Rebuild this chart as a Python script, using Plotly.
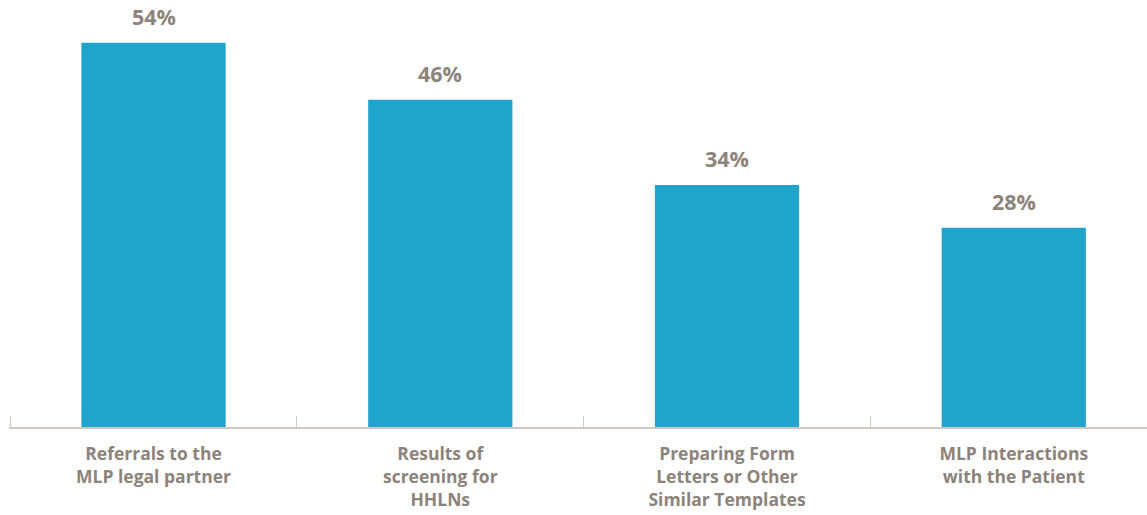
import plotly.graph_objects as go

categories = ["Referrals to the<br>MLP legal partner",
              "Results of<br>screening for<br>HHLNs",
              "Preparing Form<br>Letters or Other<br>Similar Templates",
              "MLP Interactions<br>with the Patient"]
values = [54, 46, 34, 28]
value_labels = ["54%", "46%", "34%", "28%"]

BAR = "#21a4cc"
TXT = "#8c837b"
AXIS = "#cdc8c2"
FONT = "Open Sans"

fig = go.Figure(go.Bar(x=categories, y=values, marker_color=BAR, marker_line_width=0,
                       hoverinfo="skip"))

for c, v, t in zip(categories, values, value_labels):
    fig.add_annotation(x=c, y=v, text=t, showarrow=False, yanchor="bottom", yshift=10,
                       font=dict(family=FONT, size=21.5, color=TXT, weight="bold"))

fig.update_layout(
    width=1147, height=515,
    margin=dict(l=9, r=0, t=0, b=88),
    paper_bgcolor="white", plot_bgcolor="white",
    bargap=0.497, showlegend=False,
    xaxis=dict(type="category", range=[-0.504, 3.4646], tickson="boundaries",
               ticks="inside", ticklen=11, tickwidth=1, tickcolor=AXIS,
               showline=True, linecolor=AXIS, linewidth=2, showgrid=False,
               tickfont=dict(family=FONT, size=17.5, color=TXT, weight="bold"),
               ticklabelstandoff=10),
    yaxis=dict(range=[0, 60], visible=False, showgrid=False, zeroline=False),
)
fig.write_html("out.html", config={"displayModeBar": False, "staticPlot": True},
               post_script="document.body.style.margin='0';document.body.style.overflow='hidden';")
